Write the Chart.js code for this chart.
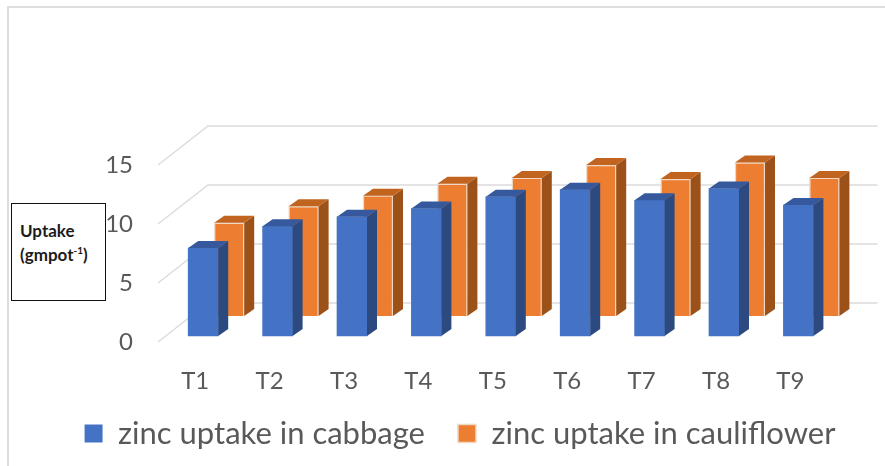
<!DOCTYPE html>
<html>
<head>
<meta charset="utf-8">
<style>
  body { margin: 0; background: #fff; }
  #wrap { position: relative; width: 885px; height: 466px; overflow: hidden; }
  #frame { position: absolute; left: 7px; top: 6px; right: -5px; bottom: -5px; border-left: 2px solid #dedede; border-top: 2px solid #dedede; }
  #ylabel { position: absolute; left: 11px; top: 203px; width: 93px; height: 96px; box-sizing: content-box; border: 1.5px solid #111; background: #fff;
    font: bold 17px Lato, sans-serif; color: #1c1c1c; line-height: 24px; }
  #ylabel div { position: absolute; left: 8px; top: 15px; white-space: nowrap; }
  #ylabel sup { font-size: 10px; line-height: 0; }
  canvas { position: absolute; left: 0; top: 0; }
</style>
</head>
<body>
<div id="wrap">
  <div id="frame"></div>
  <canvas id="myChart" width="885" height="466"></canvas>
  <div id="ylabel"><div>Uptake<br>(gmpot<sup>-1</sup>)</div></div>
</div>
<script src="https://cdn.jsdelivr.net/npm/chart.js@4"></script>
<script>
var categories = ["T1", "T2", "T3", "T4", "T5", "T6", "T7", "T8", "T9"];
var cabbage = [7.45, 9.3, 10.1, 10.8, 11.8, 12.4, 11.5, 12.5, 11.1];
var cauliflower = [7.9, 9.3, 10.2, 11.2, 11.7, 12.8, 11.6, 13, 11.7];

// fake 3d: how far each plane sits behind the front of the floor
var wallDepth = { x: 50, y: -39 };
var barPlane = [{ x: 8, y: -6 }, { x: 34, y: -26 }];
var barDepth = { x: 10, y: -7 };
var sideColors = ["#2c4a80", "#9c5119"];
var topColors = ["#35599c", "#c0641f"];

function face(ctx, pts, color) {
    ctx.beginPath();
    ctx.moveTo(pts[0][0], pts[0][1]);
    for (var i = 1; i < pts.length; i++) ctx.lineTo(pts[i][0], pts[i][1]);
    ctx.closePath();
    ctx.fillStyle = color;
    ctx.fill();
}

var floorAndWall = {
    id: 'floorAndWall',
    beforeDatasetsDraw: function (chart) {
        var ctx = chart.ctx, area = chart.chartArea, yScale = chart.scales.y;
        ctx.save();
        ctx.strokeStyle = '#dcdcdc';
        ctx.lineWidth = 1.5;
        yScale.ticks.forEach(function (t) {
            var y = yScale.getPixelForValue(t.value);
            ctx.beginPath();
            ctx.moveTo(area.left, y);
            ctx.lineTo(area.left + wallDepth.x, y + wallDepth.y);
            ctx.lineTo(area.right + wallDepth.x, y + wallDepth.y);
            ctx.stroke();
        });
        ctx.restore();
    }
};

var bars3d = {
    id: 'bars3d',
    beforeDatasetDraw: function (chart, args) {
        var p = barPlane[args.index];
        chart.ctx.save();
        chart.ctx.translate(p.x, p.y);
    },
    afterDatasetDraw: function (chart, args) {
        var ctx = chart.ctx, d = barDepth;
        args.meta.data.forEach(function (bar) {
            var b = bar.getProps(['x', 'y', 'base', 'width'], true);
            var l = b.x - b.width / 2, r = b.x + b.width / 2;
            face(ctx, [[r, b.y], [r + d.x, b.y + d.y], [r + d.x, b.base + d.y], [r, b.base]], sideColors[args.index]);
            face(ctx, [[l, b.y], [l + d.x, b.y + d.y], [r + d.x, b.y + d.y], [r, b.y]], topColors[args.index]);
        });
        ctx.restore();
    }
};

// legend padding also pads it vertically, so keep its box short and pull it up a bit
var legendFit = {
    id: 'legendFit',
    beforeLayout: function (chart) {
        var legend = chart.legend;
        if (legend.shortFit) return;
        var fit = legend.fit;
        legend.fit = function () {
            fit.call(this);
            this.height = 69;
        };
        legend.shortFit = true;
    },
    afterLayout: function (chart) {
        chart.legend.top -= 12;
        chart.legend.bottom -= 12;
    }
};

var ctx = document.getElementById('myChart').getContext('2d');
var myChart = new Chart(ctx, {
    type: 'bar',
    data: {
        labels: categories,
        datasets: [{
            label: 'zinc uptake in cabbage',
            data: cabbage,
            backgroundColor: '#4472c4',
            borderColor: '#4472c4',
            borderWidth: 0,
            barThickness: 30,
            grouped: false,
            clip: false
        }, {
            label: 'zinc uptake in cauliflower',
            data: cauliflower,
            backgroundColor: '#ed7d31',
            borderColor: '#f0d8c4',
            borderWidth: 1.5,
            barThickness: 30,
            grouped: false,
            clip: false
        }]
    },
    plugins: [floorAndWall, bars3d, legendFit],
    options: {
        responsive: false,
        animation: false,
        layout: { padding: { left: 35, right: 0, top: 165, bottom: 0 } },
        scales: {
            x: {
                grid: { display: false },
                border: { display: false },
                afterFit: function (s) { s.height = 55; },
                ticks: {
                    color: '#595959',
                    font: { family: 'Lato', size: 24 },
                    maxRotation: 0,
                    padding: 17
                }
            },
            y: {
                min: 0,
                max: 15,
                grid: { display: false },
                border: { display: false },
                afterFit: function (s) { s.width = 123; },
                ticks: {
                    stepSize: 5,
                    color: '#595959',
                    font: { family: 'Lato', size: 24 },
                    padding: 17
                }
            },
            // empty axis, only holds the space the back wall runs into
            yRight: {
                position: 'right',
                grid: { display: false },
                border: { display: false },
                ticks: { display: false },
                afterFit: function (s) { s.width = 57.4; }
            }
        },
        plugins: {
            tooltip: { enabled: false },
            legend: {
                position: 'bottom',
                labels: {
                    boxWidth: 18,
                    boxHeight: 18,
                    padding: 33,
                    color: '#595959',
                    font: { family: 'Lato', size: 31 }
                }
            }
        }
    }
});
</script>
</body>
</html>
